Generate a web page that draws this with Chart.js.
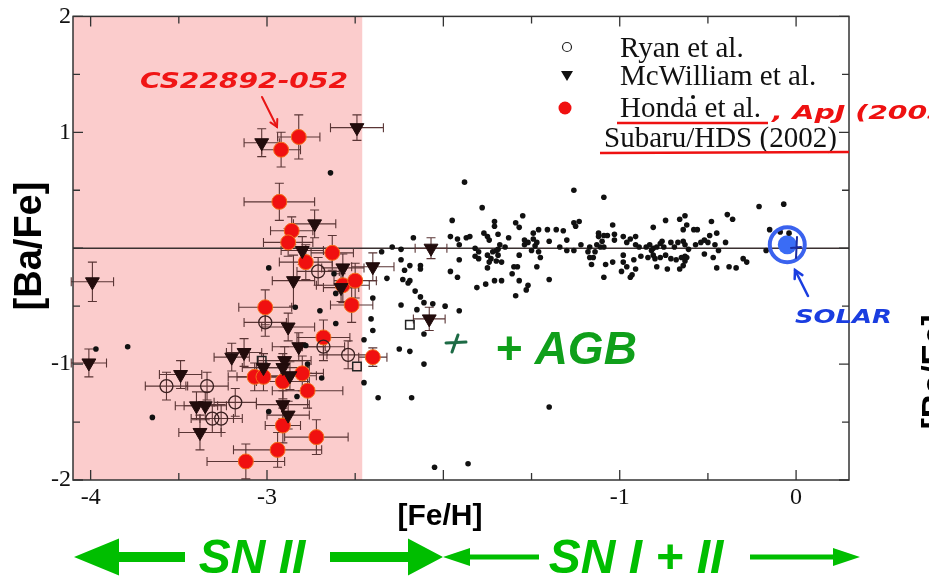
<!DOCTYPE html>
<html><head><meta charset="utf-8">
<script src="https://cdn.jsdelivr.net/npm/chart.js@4.4.1/dist/chart.umd.min.js"></script>
<style>html,body{margin:0;padding:0;background:#fff;overflow:hidden}#wrap{width:929px;height:577px;position:relative}</style>
</head><body><div id="wrap"><canvas id="c" width="929" height="577"></canvas></div>
<script>
// ---------- data ----------
const xTickLabels = [-4, -3, -1, 0];
const yTickLabels = [2, 1, -1, -2];
const pinkEdge = -2.46;

const fieldX = [-2.64,-2.99,-3.79,-3.97,-3.65,-2.70,-2.84,-2.61,-2.61,-2.45,-2.78,-2.45,-2.69,-2.77,-2.83,-2.99,-2.62,
-1.88,-1.78,-1.55,-1.26,-1.95,-1.71,-1.71,-1.59,-1.57,-1.26,-1.23,-1.25,-2.17,-1.96,-1.92,-1.91,-1.87,-1.85,-1.77,-1.75,-1.74,-1.69,-1.68,-1.69,-1.63,-1.65,-1.54,-1.54,-1.52,-1.49,-1.49,-1.47,-1.48,-1.46,-1.41,-1.36,-1.32,-1.40,-1.34,-1.30,-1.26,-1.30,-1.22,-1.17,-1.82,-1.80,-1.82,-1.80,-1.75,-1.73,-1.74,-1.72,-1.70,-1.69,-1.67,-1.57,-1.58,-1.50,-1.46,-1.45,-1.91,-1.96,-1.92,-1.75,-1.70,-1.60,-1.47,-1.61,-1.57,-1.52,-1.53,-1.59,-1.81,-1.76,-1.71,-1.67,-1.40,-2.24,-2.29,-2.35,-2.24,-2.22,-2.19,-2.23,-2.20,-2.19,-2.13,-2.13,-2.32,-2.40,-2.41,-2.24,-2.16,-2.13,-2.11,-2.06,-1.99,-1.91,-1.17,
-2.40,-2.15,-2.11,-2.25,-2.19,-2.11,-2.37,-2.18,-1.40,-2.05,-1.86,
-1.09,-0.21,-0.07,-0.39,-0.36,-0.63,-0.66,-0.74,-0.48,-0.45,-0.49,-1.04,-0.81,-0.62,-0.64,-0.58,-0.56,-0.15,-0.04,
-1.12,-1.09,-1.12,-1.07,-1.03,-1.03,-1.10,-1.13,-1.18,-1.14,-1.11,-1.09,
-0.98,-0.94,-0.91,-0.96,-0.91,-0.89,-0.85,-0.83,-0.82,-0.81,-0.79,-0.77,-0.75,-0.76,-0.71,-0.69,-0.67,-0.64,-0.63,-0.61,-0.57,-0.54,-0.52,-0.50,-0.46,-0.44,-0.40,
-1.15,-1.16,-1.08,-1.04,-0.98,-0.98,-0.92,-0.96,-0.91,-0.99,-0.93,-0.94,-1.09,
-0.88,-0.84,-0.81,-0.80,-0.77,-0.74,-0.71,-0.68,-0.65,-0.63,-0.63,-0.62,-0.79,-0.73,-0.66,-0.64,
-0.52,-0.47,-0.45,-0.38,-0.34,-0.30,-0.28,-0.17,-0.09];
const fieldY = [0.65,-0.17,-0.85,-0.87,-1.46,-0.54,-0.51,-0.39,-0.65,-0.79,-0.84,-1.16,-1.12,-1.00,-1.28,-1.41,-0.22,
0.57,0.35,0.28,0.50,0.24,0.23,0.19,0.22,0.18,0.22,0.23,0.19,0.09,0.10,0.08,0.03,0.09,0.10,0.13,0.10,0.07,0.12,0.03,-0.01,0.09,0.01,0.07,0.03,0.05,0.13,0.08,0.05,0.02,0.16,0.16,0.16,0.15,0.06,0.01,-0.02,-0.02,0.07,0.03,0.01,0.00,-0.03,-0.07,-0.09,-0.06,-0.09,-0.12,-0.03,-0.02,-0.06,-0.12,-0.06,-0.16,-0.02,-0.03,-0.08,-0.10,-0.20,-0.25,-0.17,-0.11,-0.16,-0.16,-0.22,-0.28,-0.32,-0.36,-0.41,-0.34,-0.31,-0.28,-0.28,-0.27,-0.01,0.01,-0.03,-0.10,-0.19,-0.15,-0.27,-0.30,-0.28,-0.15,-0.18,-0.26,-0.43,-0.61,-0.49,-0.37,-0.42,-0.47,-0.48,-0.50,-0.54,-0.08,
-0.71,-0.53,-0.74,-0.87,-0.89,-1.00,-1.29,-1.29,-1.37,-1.89,-1.86,
0.44,0.36,0.38,0.29,0.25,0.28,0.25,0.24,0.23,0.13,0.11,0.20,0.18,0.20,0.16,0.16,0.16,0.16,0.13,
0.13,0.11,0.10,0.11,0.12,0.07,0.06,0.03,-0.03,-0.03,0.01,0.01,
0.10,0.08,0.10,0.05,0.03,0.01,0.01,0.03,-0.02,0.00,0.01,0.04,0.01,0.06,0.05,0.01,0.05,0.06,0.03,-0.01,0.03,0.05,0.07,0.05,0.03,-0.02,0.05,
-0.08,-0.14,-0.14,-0.12,-0.06,-0.12,-0.10,-0.16,-0.18,-0.20,-0.23,-0.25,-0.25,
-0.07,-0.08,-0.06,-0.09,-0.08,-0.06,-0.09,-0.10,-0.08,-0.07,-0.11,-0.08,-0.16,-0.18,-0.18,-0.15,
-0.05,-0.08,-0.17,-0.16,-0.17,-0.09,-0.12,-0.02,0.14];

const ryanX    = [-2.71,-3.01,-2.68,-2.54,-3.57,-3.34,-3.18,-3.31,-3.26];
const ryanY    = [-0.20,-0.64,-0.85,-0.92,-1.19,-1.19,-1.33,-1.47,-1.47];
const ryanXerr = [0.12,0.12,0.12,0.12,0.12,0.12,0.12,0.12,0.12];
const ryanYerr = [0.12,0.12,0.12,0.12,0.12,0.12,0.12,0.12,0.12];

const mcwX    = [-3.03,-2.49,-2.73,-3.99,-4.01,-2.80,-2.57,-2.85,-2.58,-2.88,-2.82,-3.13,-3.20,-2.90,-2.91,-3.02,-2.87,-3.49,-3.40,-3.35,-3.38,-2.91,-2.88,-2.07,-2.40,-2.08];
const mcwY    = [0.91,1.04,0.21,-0.29,-0.99,-0.02,-0.17,-0.28,-0.34,-0.68,-0.85,-0.90,-0.94,-0.97,-1.03,-1.03,-1.10,-1.09,-1.36,-1.36,-1.59,-1.35,-1.44,0.00,-0.16,-0.61];
const mcwXerr = [0.10,0.15,0.12,0.12,0.10,0.12,0.12,0.12,0.10,0.15,0.15,0.10,0.10,0.15,0.15,0.12,0.15,0.12,0.12,0.12,0.12,0.15,0.12,0.09,0.12,0.09];
const mcwYerr = [0.12,0.11,0.12,0.17,0.12,0.12,0.12,0.22,0.12,0.12,0.12,0.12,0.12,0.12,0.12,0.12,0.12,0.12,0.12,0.12,0.15,0.12,0.12,0.09,0.12,0.10];

const hondaX    = [-2.92,-2.82,-2.93,-2.86,-2.88,-2.63,-2.78,-2.57,-2.50,-2.52,-3.01,-2.68,-2.40,-3.07,-3.02,-2.91,-2.80,-2.77,-2.91,-2.72,-2.94,-3.12];
const hondaY    = [0.85,0.96,0.40,0.15,0.05,-0.04,-0.12,-0.32,-0.28,-0.49,-0.51,-0.77,-0.94,-1.11,-1.11,-1.15,-1.08,-1.23,-1.53,-1.63,-1.74,-1.84];
const hondaXerr = [0.11,0.12,0.20,0.12,0.14,0.12,0.15,0.15,0.12,0.12,0.15,0.15,0.08,0.15,0.15,0.15,0.12,0.20,0.10,0.18,0.25,0.22];
const hondaYerr = [0.15,0.19,0.16,0.12,0.12,0.15,0.15,0.15,0.15,0.15,0.15,0.15,0.08,0.12,0.12,0.15,0.15,0.15,0.15,0.15,0.15,0.15];

const squareX = [-2.19,-2.49,-3.03];
const squareY = [-0.66,-1.02,-0.97];

const solarX = [-0.05];
const solarY = [0.03];

// ---------- helpers ----------
const pts = (xs, ys) => xs.map((v, i) => ({x: v, y: ys[i]}));
const SERIF = '"Liberation Serif", "Times New Roman", serif';
const SANS = '"Liberation Sans", Arial, sans-serif';
const HAND = '"DejaVu Sans", sans-serif';

function errBars(ctx, sx, sy, xs, ys, xe, ye) {
  ctx.strokeStyle = '#5a3535'; ctx.lineWidth = 1.1;
  const c = 4.5;
  for (let i = 0; i < xs.length; i++) {
    const px = sx.getPixelForValue(xs[i]), py = sy.getPixelForValue(ys[i]);
    const x1 = sx.getPixelForValue(xs[i] - xe[i]), x2 = sx.getPixelForValue(xs[i] + xe[i]);
    const y1 = sy.getPixelForValue(ys[i] - ye[i]), y2 = sy.getPixelForValue(ys[i] + ye[i]);
    ctx.beginPath();
    ctx.moveTo(x1, py); ctx.lineTo(x2, py);
    ctx.moveTo(px, y1); ctx.lineTo(px, y2);
    ctx.moveTo(x1, py - c); ctx.lineTo(x1, py + c);
    ctx.moveTo(x2, py - c); ctx.lineTo(x2, py + c);
    ctx.moveTo(px - c, y1); ctx.lineTo(px + c, y1);
    ctx.moveTo(px - c, y2); ctx.lineTo(px + c, y2);
    ctx.stroke();
  }
}
function arrowShape(ctx, x0, x1, y, shaft, headLen, headH) {
  const d = Math.sign(x1 - x0);
  const hb = x1 - d * headLen;
  ctx.beginPath();
  ctx.moveTo(x0, y - shaft / 2);
  ctx.lineTo(hb, y - shaft / 2);
  ctx.lineTo(hb, y - headH / 2);
  ctx.lineTo(x1, y);
  ctx.lineTo(hb, y + headH / 2);
  ctx.lineTo(hb, y + shaft / 2);
  ctx.lineTo(x0, y + shaft / 2);
  ctx.closePath();
  ctx.fill();
}
function fitText(ctx, txt, x, y, w, font, color) {
  ctx.font = font; ctx.fillStyle = color;
  const m = ctx.measureText(txt).width;
  ctx.save(); ctx.translate(x, y); ctx.scale(w / m, 1);
  ctx.textAlign = 'left'; ctx.fillText(txt, 0, 0); ctx.restore();
}
function lineArrow(ctx, x0, y0, x1, y1, color, lw, head) {
  ctx.strokeStyle = color; ctx.lineWidth = lw; ctx.lineCap = 'round';
  ctx.beginPath(); ctx.moveTo(x0, y0); ctx.lineTo(x1, y1); ctx.stroke();
  const a = Math.atan2(y1 - y0, x1 - x0);
  ctx.beginPath();
  ctx.moveTo(x1 - head * Math.cos(a - 0.5), y1 - head * Math.sin(a - 0.5));
  ctx.lineTo(x1, y1);
  ctx.lineTo(x1 - head * Math.cos(a + 0.5), y1 - head * Math.sin(a + 0.5));
  ctx.stroke();
}

const decor = {
  id: 'decor',
  beforeDatasetsDraw(chart) {
    const {ctx, chartArea: a, scales: {x, y}} = chart;
    ctx.save();
    ctx.fillStyle = 'rgb(251,204,204)';
    const xp = x.getPixelForValue(pinkEdge);
    ctx.fillRect(a.left, a.top, xp - a.left, a.bottom - a.top);
    const y0 = y.getPixelForValue(0);
    ctx.strokeStyle = '#3a3030'; ctx.lineWidth = 1.6;
    ctx.beginPath(); ctx.moveTo(a.left, y0); ctx.lineTo(a.right, y0); ctx.stroke();
    errBars(ctx, x, y, ryanX, ryanY, ryanXerr, ryanYerr);
    errBars(ctx, x, y, mcwX, mcwY, mcwXerr, mcwYerr);
    errBars(ctx, x, y, hondaX, hondaY, hondaXerr, hondaYerr);
    ctx.restore();
  },
  afterDatasetsDraw(chart) {
    const {ctx, chartArea: a, scales: {x, y}} = chart;
    ctx.save();
    ctx.strokeStyle = '#333'; ctx.lineWidth = 1.5;
    ctx.strokeRect(a.left, a.top, a.right - a.left, a.bottom - a.top);
    ctx.lineWidth = 1.3;
    ctx.beginPath();
    for (let v = -4; v <= 0.001; v += 0.5) {
      const px = x.getPixelForValue(v);
      const L = Number.isInteger(v) ? 10 : 7;
      ctx.moveTo(px, a.bottom); ctx.lineTo(px, a.bottom - L);
      ctx.moveTo(px, a.top); ctx.lineTo(px, a.top + L);
    }
    for (let v = -2; v <= 2.001; v += 0.5) {
      const py = y.getPixelForValue(v);
      const L = Number.isInteger(v) ? 10 : 7;
      ctx.moveTo(a.left, py); ctx.lineTo(a.left + L, py);
      ctx.moveTo(a.right, py); ctx.lineTo(a.right - L, py);
    }
    ctx.stroke();
    ctx.restore();
  },
  afterDraw(chart) {
    const {ctx, chartArea: a, scales: {x, y}} = chart;
    ctx.save();
    ctx.fillStyle = '#000';
    ctx.font = 'bold 30px ' + SANS;
    ctx.textAlign = 'center'; ctx.textBaseline = 'middle';
    ctx.fillText('[Fe/H]', 440, 517);
    ctx.save(); ctx.translate(31, 246); ctx.rotate(-Math.PI / 2);
    ctx.font = 'bold 38px ' + SANS; ctx.fillText('[Ba/Fe]', 0, 0); ctx.restore();
    ctx.save(); ctx.translate(936, 372); ctx.rotate(-Math.PI / 2);
    ctx.font = 'bold 34px ' + SANS; ctx.fillText('[Ba/Fe]', 0, 0); ctx.restore();

    // legend
    ctx.textAlign = 'left'; ctx.textBaseline = 'alphabetic';
    ctx.font = '29px ' + SERIF; ctx.fillStyle = '#111';
    ctx.fillText('Ryan et al.', 620, 57);
    ctx.fillText('McWilliam et al.', 620, 85);
    ctx.fillText('Honda et al.', 620, 117);
    ctx.fillText('Subaru/HDS (2002)', 604, 147);
    ctx.strokeStyle = '#222'; ctx.lineWidth = 1.2;
    ctx.beginPath(); ctx.arc(567, 47, 4.5, 0, Math.PI * 2); ctx.stroke();
    ctx.fillStyle = '#111';
    ctx.beginPath(); ctx.moveTo(561, 71); ctx.lineTo(573, 71); ctx.lineTo(567, 81); ctx.closePath(); ctx.fill();
    ctx.beginPath(); ctx.arc(693, 97, 2, 0, Math.PI * 2); ctx.fill();
    ctx.fillStyle = '#f01010';
    ctx.beginPath(); ctx.arc(565, 108, 6.5, 0, Math.PI * 2); ctx.fill();
    ctx.strokeStyle = '#ee1111'; ctx.lineWidth = 2.5;
    ctx.beginPath(); ctx.moveTo(617, 123); ctx.lineTo(768, 123); ctx.stroke();
    ctx.beginPath(); ctx.moveTo(600, 153); ctx.lineTo(849, 152); ctx.stroke();
    fitText(ctx, ', ApJ (2003', 772, 119, 175, 'italic bold 20px ' + HAND, '#ee1111');

    fitText(ctx, 'CS22892-052', 140, 88, 208, 'italic bold 21px ' + HAND, '#f01515');
    lineArrow(ctx, 262, 97, 277, 127, '#e81515', 2, 8);

    ctx.fillStyle = '#0f9f1a';
    ctx.font = 'italic bold 46px ' + SANS;
    ctx.fillText('+ AGB', 495, 364);
    ctx.strokeStyle = '#1d6b45'; ctx.lineWidth = 3; ctx.lineCap = 'round';
    ctx.beginPath(); ctx.moveTo(446, 343); ctx.lineTo(466, 342);
    ctx.moveTo(458, 335); ctx.lineTo(452, 352); ctx.stroke();

    const sx = x.getPixelForValue(solarX[0]), sy = y.getPixelForValue(solarY[0]);
    ctx.strokeStyle = '#3a62ee'; ctx.lineWidth = 4;
    ctx.beginPath(); ctx.arc(sx, sy, 17.5, 0, Math.PI * 2); ctx.stroke();
    ctx.strokeStyle = '#1a2aa0'; ctx.lineWidth = 2;
    ctx.beginPath(); ctx.moveTo(797, 237); ctx.lineTo(796, 258); ctx.moveTo(791, 248); ctx.lineTo(801, 247); ctx.stroke();
    lineArrow(ctx, 808, 296, 795, 270, '#1a3de0', 2.5, 9);
    fitText(ctx, 'SOLAR', 795, 323, 97, 'italic bold 20px ' + HAND, '#1a3de0');

    const G = 'rgb(0,190,0)';
    ctx.fillStyle = G;
    arrowShape(ctx, 185, 74, 557, 10, 45, 37);
    arrowShape(ctx, 330, 443, 557, 10, 35, 37);
    arrowShape(ctx, 539, 443, 557, 5, 27, 18);
    arrowShape(ctx, 750, 860, 557, 5, 27, 18);
    ctx.font = 'italic bold 48px ' + SANS;
    ctx.textAlign = 'center'; ctx.textBaseline = 'alphabetic';
    ctx.fillText('SN II', 252, 573);
    ctx.fillText('SN I + II', 636, 573);
    ctx.restore();
  }
};

const chart = new Chart(document.getElementById('c'), {
  type: 'scatter',
  data: {
    datasets: [
      {label: 'field', data: pts(fieldX, fieldY), pointRadius: 2.8, pointBackgroundColor: '#111', pointBorderWidth: 0},
      {label: 'Ryan et al.', data: pts(ryanX, ryanY), pointStyle: 'circle', pointRadius: 6.5, pointBackgroundColor: 'rgba(0,0,0,0)', pointBorderColor: '#3a2020', pointBorderWidth: 1.3},
      {label: 'McWilliam et al.', data: pts(mcwX, mcwY), pointStyle: 'triangle', pointRotation: 180, pointRadius: 8, pointBackgroundColor: '#220c0c', pointBorderColor: '#220c0c', pointBorderWidth: 1},
      {label: 'squares', data: pts(squareX, squareY), pointStyle: 'rect', pointRadius: 6, pointBackgroundColor: 'rgba(0,0,0,0)', pointBorderColor: '#222', pointBorderWidth: 1.5},
      {label: 'Honda et al.', data: pts(hondaX, hondaY), pointStyle: 'circle', pointRadius: 7.5, pointBackgroundColor: '#f01010', pointBorderColor: '#f5701a', pointBorderWidth: 1},
      {label: 'solar', data: pts(solarX, solarY), pointStyle: 'circle', pointRadius: 9.5, pointBackgroundColor: '#3a6cf5', pointBorderWidth: 0}
    ]
  },
  options: {
    responsive: false, animation: false, devicePixelRatio: 1,
    layout: {padding: {left: 0, right: 80, top: 16, bottom: 0}, autoPadding: false},
    plugins: {legend: {display: false}, tooltip: {enabled: false}},
    scales: {
      x: {
        type: 'linear', min: -4.1, max: 0.3,
        afterBuildTicks: s => { s.ticks = xTickLabels.map(v => ({value: v})); },
        afterFit: s => { s.height = 97; },
        grid: {display: false, drawTicks: false}, border: {display: false},
        ticks: {padding: 3, color: '#111', font: {family: SERIF, size: 24}, callback: v => String(v)}
      },
      y: {
        type: 'linear', min: -2, max: 2,
        afterBuildTicks: s => { s.ticks = yTickLabels.map(v => ({value: v})); },
        afterFit: s => { s.width = 73; },
        grid: {display: false, drawTicks: false}, border: {display: false},
        ticks: {padding: 2, color: '#111', font: {family: SERIF, size: 24}, callback: v => String(v)}
      }
    }
  },
  plugins: [decor]
});
</script>
</body></html>
